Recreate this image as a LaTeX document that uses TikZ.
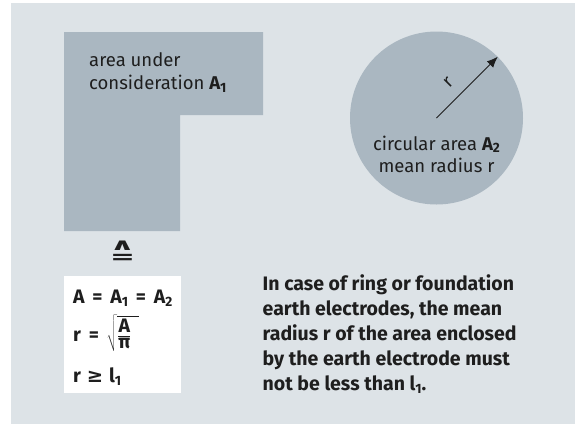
\documentclass[tikz,border=0pt]{standalone}
\usepackage{fontspec}
\usepackage{graphicx}
\setmainfont{Fira Sans}
\newfontfamily\symfont{DejaVu Sans}
\usetikzlibrary{arrows.meta}
\definecolor{bgc}{RGB}{221,227,231}
\definecolor{areac}{RGB}{170,183,193}
\definecolor{txtc}{RGB}{30,30,30}
\newcommand\lowsub[1]{\raisebox{-0.3ex}{\fontsize{13.5}{13.5}\selectfont #1}}
\newcommand\eqsp{\hspace{0.4em}=\hspace{0.4em}}
\tikzset{
  lbl/.style={inner sep=0pt, anchor=base west, text=txtc, font=\fontsize{18.5}{22}\selectfont},
  lblc/.style={inner sep=0pt, anchor=base, text=txtc, font=\fontsize{18.5}{22}\selectfont},
  bold/.style={inner sep=0pt, anchor=base west, text=txtc, font=\fontsize{19.5}{24}\selectfont\bfseries},
}
\begin{document}
\begin{tikzpicture}[x=1pt,y=-1pt]
\useasboundingbox (0,0) rectangle (581,424);
\fill[bgc] (11,3) rectangle (575,424);
% L-shaped area
\fill[areac] (64,32) -- (263,32) -- (263,115) -- (180,115) -- (180,231) -- (64,231) -- cycle;
\node[lbl] (a1) at (89,66) {area under};
\node[lbl] (a2) at (89,89.5) {consideration \textbf{A\lowsub{1}}};
% circle
\node[circle, fill=areac, minimum size=173pt, inner sep=0pt] (circ) at (436.5,118) {};
\coordinate (cc) at (436.5,118);
\draw[-{Latex[length=11pt,width=9pt]}, line width=0.9pt, txtc] (cc) -- (circ.45);
\node[lblc, rotate=45] (rl) at (452,86) {r};
\node[lblc] (c1) at (436.5,150) {circular area \textbf{A\lowsub{2}}};
\node[lblc] (c2) at (436.5,172) {mean radius r};
% corresponds symbol
\node[inner sep=0pt, text=txtc] (corr) at (122.5,252.3)
  {\resizebox{25pt}{22.5pt}{\symfont\bfseries\shortstack{\resizebox{0.84em}{0.5em}{∧}\\[-1pt]=}}};
% formula box
\node[fill=white, minimum width=117pt, minimum height=117pt, inner sep=0pt] (fbox) at (122.5,334.5) {};
\node[bold] (f1) at (73,303) {A\eqsp A\lowsub{1}\eqsp A\lowsub{2}};
\node[bold] (f2) at (73,341) {r\eqsp$\sqrt{\rule[-8pt]{0pt}{30pt}\frac{\mbox{A}}{\mbox{π}}\,\,}$};
\node[bold] (f3) at (73,382) {r\hspace{0.3em}{\symfont ≥}\hspace{0.3em}l\lowsub{1}};
% body text
\node[bold] (t1) at (262.5,290.7) {In case of ring or foundation};
\node[bold] (t2) at (262.5,315.7) {earth electrodes, the mean};
\node[bold] (t3) at (262.5,340.7) {radius r of the area enclosed};
\node[bold] (t4) at (262.5,365.7) {by the earth electrode must};
\node[bold] (t5) at (262.5,390.7) {not be less than l\lowsub{1}.};
\end{tikzpicture}
\end{document}
